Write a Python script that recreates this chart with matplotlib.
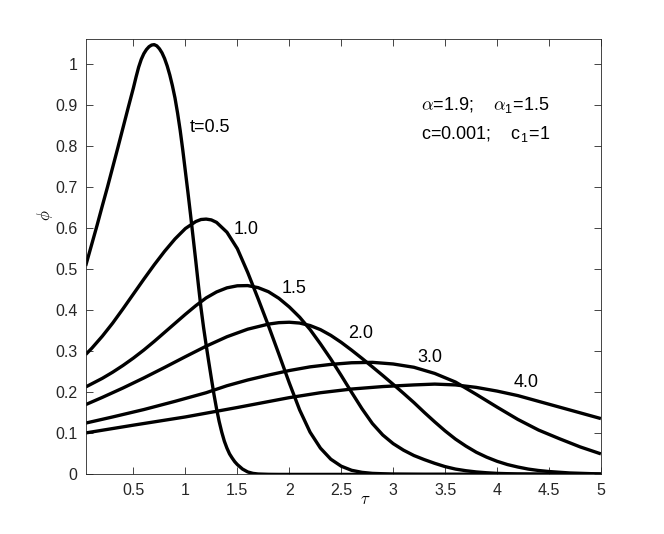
import matplotlib
matplotlib.use("Agg")
import matplotlib.pyplot as plt

plt.rcParams['font.family'] = ['Liberation Sans', 'DejaVu Sans']
plt.rcParams['mathtext.fontset'] = 'cm'

# ---- data ----
tau_t05 = [0.04, 0.1, 0.15, 0.2, 0.25, 0.3, 0.35, 0.4, 0.45,
           0.5, 0.525, 0.55, 0.575, 0.6, 0.625, 0.65, 0.675, 0.7, 0.725, 0.75, 0.775,
           0.8, 0.825, 0.85, 0.875, 0.9, 0.925, 0.95, 0.975, 1.0, 1.025, 1.05, 1.075,
           1.1, 1.125, 1.15, 1.175, 1.2, 1.225, 1.25, 1.275, 1.3, 1.325, 1.35, 1.375,
           1.4, 1.425, 1.45, 1.475, 1.5, 1.55, 1.6, 1.65, 1.7, 1.8, 1.9, 5.0]
phi_t05 = [0.508, 0.562, 0.607, 0.654, 0.700, 0.748, 0.796, 0.845, 0.894,
           0.942, 0.968, 0.992, 1.011, 1.025, 1.035, 1.042, 1.046, 1.047, 1.044, 1.037, 1.027,
           1.013, 0.995, 0.973, 0.947, 0.917, 0.880, 0.838, 0.790, 0.738, 0.686, 0.632, 0.576,
           0.520, 0.462, 0.406, 0.358, 0.315, 0.274, 0.234, 0.195, 0.160, 0.129, 0.103, 0.081,
           0.064, 0.050, 0.040, 0.031, 0.024, 0.013, 0.006, 0.0025, 0.001, 0.0002, 0.0, 0.0]

tau_t10 = [0.04, 0.1, 0.2, 0.3, 0.4, 0.5, 0.6, 0.7, 0.8, 0.9, 1.0, 1.1, 1.15, 1.2, 1.25,
           1.3, 1.4, 1.5, 1.6, 1.7, 1.8, 1.9, 2.0, 2.1, 2.2, 2.3, 2.4, 2.5, 2.6, 2.7, 2.8,
           3.0, 3.3, 5.0]
phi_t10 = [0.292, 0.3076, 0.3366, 0.3686, 0.4036, 0.4396, 0.4756, 0.5106, 0.5436, 0.5736,
           0.599, 0.616, 0.621, 0.622, 0.620, 0.614, 0.590, 0.550, 0.492, 0.428, 0.362,
           0.293, 0.223, 0.157, 0.103, 0.064, 0.037, 0.020, 0.010, 0.005, 0.0025, 0.0007,
           0.0001, 0.0]

tau_t15 = [0.04, 0.2, 0.3, 0.4, 0.5, 0.6, 0.7, 0.8, 0.9, 1.0, 1.1, 1.2, 1.3, 1.4, 1.5,
           1.6, 1.7, 1.8, 1.9, 2.0, 2.1, 2.2, 2.3, 2.4, 2.5, 2.6, 2.7, 2.8, 2.9, 3.0, 3.1,
           3.2, 3.3, 3.4, 3.5, 3.6, 3.7, 3.8, 3.9, 4.0, 4.2, 4.5, 5.0]
phi_t15 = [0.213, 0.234, 0.249, 0.2655, 0.2835, 0.303, 0.324, 0.346, 0.368, 0.390, 0.411,
           0.430, 0.4445, 0.4545, 0.4595, 0.460, 0.455, 0.445, 0.429, 0.408, 0.383, 0.353,
           0.318, 0.281, 0.241, 0.200, 0.160, 0.124, 0.096, 0.075, 0.059, 0.046, 0.036,
           0.027, 0.019, 0.013, 0.009, 0.006, 0.004, 0.0025, 0.001, 0.0002, 0.0]

tau_t20 = [0.04, 0.2, 0.4, 0.6, 0.8, 1.0, 1.2, 1.4, 1.6, 1.8, 1.9, 2.0, 2.1, 2.2, 2.3,
           2.4, 2.5, 2.6, 2.7, 2.8, 2.9, 3.0, 3.1, 3.2, 3.3, 3.4, 3.5, 3.6, 3.7, 3.8, 3.9,
           4.0, 4.1, 4.2, 4.3, 4.4, 4.5, 4.7, 5.0]
phi_t20 = [0.170, 0.1876, 0.2106, 0.235, 0.2606, 0.2868, 0.3124, 0.3354, 0.3538, 0.3662,
           0.3697, 0.3707, 0.3687, 0.3627, 0.3527, 0.3387, 0.3217, 0.3027, 0.2827, 0.262,
           0.241, 0.2195, 0.1975, 0.175, 0.151, 0.128, 0.106, 0.086, 0.069, 0.054, 0.042,
           0.032, 0.024, 0.018, 0.013, 0.0095, 0.007, 0.0035, 0.001]

tau_t30 = [0.04, 0.3, 0.6, 0.9, 1.2, 1.4, 1.6, 1.8, 2.0, 2.2, 2.4, 2.6, 2.8, 3.0, 3.2,
           3.4, 3.6, 3.8, 4.0, 4.2, 4.4, 4.6, 4.8, 5.0]
phi_t30 = [0.125, 0.140, 0.158, 0.178, 0.199, 0.216, 0.230, 0.242, 0.253, 0.262, 0.268,
           0.272, 0.273, 0.269, 0.261, 0.246, 0.225, 0.195, 0.164, 0.134, 0.108, 0.087,
           0.067, 0.050]

tau_t40 = [0.04, 0.5, 1.0, 1.5, 2.0, 2.3, 2.6, 2.9, 3.2, 3.4, 3.6, 3.8, 4.0, 4.2, 4.4,
           4.6, 4.8, 5.0]
phi_t40 = [0.101, 0.120, 0.140, 0.163, 0.187, 0.199, 0.208, 0.214, 0.218, 0.220, 0.218,
           0.212, 0.203, 0.192, 0.178, 0.164, 0.150, 0.136]

curve_labels = ["t=0.5", "1.0", "1.5", "2.0", "3.0", "4.0"]
label_tau = [1.045, 1.46, 1.93, 2.57, 3.23, 4.16]
label_phi = [0.846, 0.596, 0.452, 0.344, 0.284, 0.225]

xticks = [0.5, 1, 1.5, 2, 2.5, 3, 3.5, 4, 4.5, 5]
xticklabels = ["0.5", "1", "1.5", "2", "2.5", "3", "3.5", "4", "4.5", "5"]
yticks = [0, 0.1, 0.2, 0.3, 0.4, 0.5, 0.6, 0.7, 0.8, 0.9, 1.0]
yticklabels = ["0", "0.1", "0.2", "0.3", "0.4", "0.5", "0.6", "0.7", "0.8", "0.9", "1"]

# ---- figure ----
fig = plt.figure(figsize=(6.64, 5.34), dpi=100)
ax = fig.add_axes([0.129, 0.1116, 0.776, 0.8148])

series = [(tau_t05, phi_t05), (tau_t10, phi_t10), (tau_t15, phi_t15),
          (tau_t20, phi_t20), (tau_t30, phi_t30), (tau_t40, phi_t40)]
for tx, py in series:
    ax.plot(tx, py, color='black', lw=2.4, solid_joinstyle='round',
            solid_capstyle='butt')

for lab, lx, ly in zip(curve_labels, label_tau, label_phi):
    ax.text(lx, ly, lab, fontsize=13, ha='left', va='center', color='black')

ax.text(3.27, 0.897, r'$\alpha$=1.9;    $\alpha_{\mathregular{1}}$=1.5', fontsize=13,
        ha='left', va='center')
ax.text(3.27, 0.827, r'c=0.001;    c$_{\mathregular{1}}$=1', fontsize=13,
        ha='left', va='center')

ax.set_xlim(0.04, 5)
ax.set_ylim(0, 1.06)
ax.set_xticks(xticks)
ax.set_xticklabels(xticklabels)
ax.set_yticks(yticks)
ax.set_yticklabels(yticklabels)

axcol = '#262626'
for s in ax.spines.values():
    s.set_color(axcol)
    s.set_linewidth(0.6)
ax.tick_params(direction='in', length=5, width=0.6, colors=axcol,
               top=True, right=True, labelsize=11.5, pad=6)

ax.set_xlabel(r'$\tau$', fontsize=12)
ax.set_ylabel(r'$\phi$', fontsize=12)
ax.xaxis.set_label_coords(0.542, -0.04)
ax.yaxis.set_label_coords(-0.060, 0.596)

fig.savefig('out.png', dpi=100)
